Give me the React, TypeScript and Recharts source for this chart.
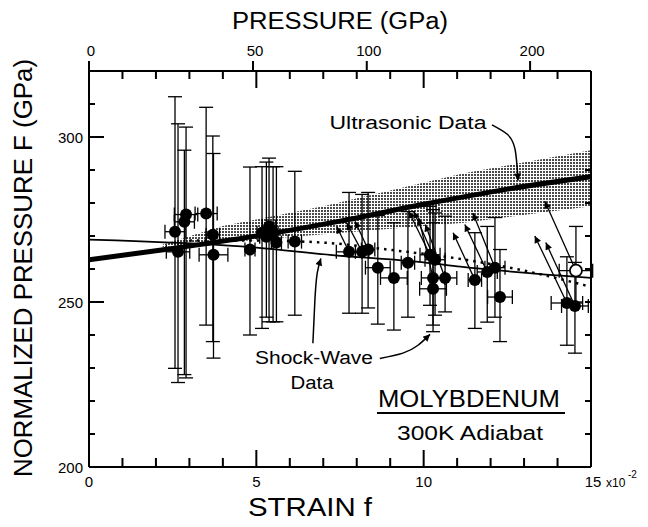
import {
  ComposedChart,
  XAxis,
  YAxis,
  Line,
  Area,
  Scatter,
  ErrorBar,
  ReferenceLine,
} from "recharts";

const FONT = "'Liberation Sans', Arial, sans-serif";

// axes: strain f (x10^-2) at the bottom, pressure (GPa) on top, F (GPa) at the sides
const strainTicks = [0, 1, 2, 3, 4, 5, 6, 7, 8, 9, 10, 11, 12, 13, 14, 15];
const strainLabels = [0, 5, 10, 15];
const pressureLabels = [0, 50, 100, 200];
const pressureAtStrain = [0, 4.9, 8.3, 13.18];
const fTicks = [200, 210, 220, 230, 240, 250, 260, 270, 280, 290, 300, 310, 320];
const fLabels = [200, 250, 300];

// ultrasonic fit and its uncertainty band
const ultraStrain = [0, 2.5, 5, 7.5, 10, 12.5, 15];
const ultraF = [262.8, 266.2, 270, 274.5, 279.6, 284.2, 288];
const bandStrain = [2.2, 4, 7, 11.2, 15];
const bandLow = [266.6, 268, 270.5, 274, 279];
const bandHigh = [267.4, 273, 279, 289, 296];

// shock-wave fits
const shockStrain = [0, 5, 7.2, 10, 11.1, 15];
const shockF = [268.9, 266.5, 264.3, 262, 260.7, 257.3];
const dottedStrain = [3, 5, 7, 9, 11, 13, 15];
const dottedF = [268.6, 268.6, 268, 265.8, 263.2, 259.5, 254.6];

// shock-wave data points
const ptStrain = [
  2.57, 2.66, 2.9, 2.85, 3.5, 3.7, 3.72, 4.81, 5.17, 5.3, 5.38, 5.5, 5.6, 6.15,
  7.77, 8.16, 8.34, 8.63, 9.11, 9.53, 10.19, 10.34, 10.28, 10.28, 10.64, 11.53,
  11.9, 12.13, 12.28, 14.28, 14.52,
];
const ptF = [
  271.3, 265.2, 276.5, 274.3, 276.8, 270.4, 264.3, 265.9, 271, 269.8, 272.9, 271,
  268, 268.3, 265.2, 265.2, 265.9, 260.4, 257.3, 261.9, 264.3, 262.8, 257.3, 254,
  257.3, 256.7, 259.1, 260.4, 251.5, 249.7, 248.8,
];
const ptTop = [
  312.2, 304, 303, 296, 309, 300.3, 295, 290.9, 291, 292.4, 293.6, 291, 291, 289.6,
  283.2, 282.6, 283.2, 276.2, 274, 277.4, 279, 277, 278, 274, 276, 271, 272.9,
  275.6, 265.9, 263.7, 262,
];
const ptBottom = [
  229.9, 225.6, 227, 228, 243, 238, 233, 240, 242, 245.4, 244, 244, 244, 246,
  246.6, 246.6, 248.2, 243.3, 241.5, 245.4, 249, 246, 243, 241, 247, 242, 243.9,
  245.4, 238, 236.9, 234.5,
];
const ptStrainErr = [
  0.3, 0.35, 0.35, 0.3, 0.33, 0.2, 0.43, 0.15, 0.15, 0.2, 0.2, 0.15, 0.15, 0.2,
  0.38, 0.2, 0.2, 0.37, 0.4, 0.2, 0.3, 0.3, 0.35, 0.4, 0.35, 0.2, 0.3, 0.3, 0.37,
  0.47, 0.4,
];

// open-circle point
const openStrain = [14.55];
const openF = [259.5];
const openTop = [272.9];
const openBottom = [250];
const openStrainErr = [0.5];

// arrows from shock-wave points
const arrowFromStrain = [7.77, 8.16, 8.34, 10.19, 10.34, 10.28, 10.64, 11.53, 11.9, 12.13, 14.28, 14.52, 14.55];
const arrowFromF = [265.2, 265.2, 265.9, 264.3, 262.8, 257.3, 257.3, 256.7, 259.1, 260.4, 249.7, 248.8, 259.5];
const arrowToStrain = [7.4, 7.7, 7.95, 9.55, 9.7, 9.85, 10.05, 10.88, 11.23, 11.47, 13.32, 13.65, 13.62];
const arrowToF = [272.9, 274, 274.5, 277.5, 277.5, 275.5, 273.5, 271, 273.5, 277, 270, 268, 280.5];

// annotation arrows
const ultraArrowStrain = [12.04, 12.49, 12.73, 12.82];
const ultraArrowF = [303.7, 300.9, 296.3, 286.8];
const shockArrowAStrain = [6.69, 6.75, 6.82, 6.93];
const shockArrowAF = [237.5, 250.6, 258.8, 263.2];
const shockArrowBStrain = [8.69, 9.38, 9.83, 10.19];
const shockArrowBF = [232.9, 234.5, 236.9, 240.2];

// chart layout
const W = 648;
const H = 527;
const margin = { top: 41, right: 56, bottom: 30, left: 29 };
const Y_AXIS_W = 60;
const X_AXIS_H = 30;
const plotLeft = margin.left + Y_AXIS_W;
const plotTop = margin.top + X_AXIS_H;
const plotW = W - plotLeft - margin.right - 1;
const plotH = H - plotTop - margin.bottom - X_AXIS_H;
const X_MIN = 0;
const X_MAX = 15;
const Y_MIN = 200;
const Y_MAX = 320;
const toPx = (v: number) => plotLeft + ((v - X_MIN) / (X_MAX - X_MIN)) * plotW;
const toPy = (v: number) => plotTop + ((Y_MAX - v) / (Y_MAX - Y_MIN)) * plotH;

const axisStyle = { stroke: "#000", strokeWidth: 2 };

function BottomTick(props: any) {
  const { x, y, payload } = props;
  const v = payload.value;
  if (!strainLabels.includes(v)) return <g />;
  return (
    <g>
      <text x={x + (v === 15 ? 2 : 0)} y={y + 20} textAnchor="middle" fontSize={15} fontFamily={FONT} fill="#000">
        {v}
      </text>
      {v === 15 && (
        <>
          <text x={x + 15} y={y + 20} fontSize={12} fontFamily={FONT} fill="#000">x10</text>
          <text x={x + 37} y={y + 11} fontSize={10} fontFamily={FONT} fill="#000">-2</text>
        </>
      )}
    </g>
  );
}

function TopTick(props: any) {
  const { x, y, payload } = props;
  const pi = pressureAtStrain.findIndex((s) => Math.abs(s - payload.value) < 1e-6);
  return (
    <text x={x + 2} y={y - 15.5} textAnchor="middle" fontSize={15} fontFamily={FONT} fill="#000">
      {pi >= 0 ? pressureLabels[pi] : ""}
    </text>
  );
}

function LeftTick(props: any) {
  const { x, y, payload } = props;
  const v = payload.value;
  if (!fLabels.includes(v)) return <g />;
  return (
    <text x={x - 6} y={y + 5.5} textAnchor="end" fontSize={15} fontFamily={FONT} fill="#000">
      {v}
    </text>
  );
}

// tick marks on the frame: inward strain / F ticks, outward pressure ticks
function FrameTicks() {
  const bottom = plotTop + plotH;
  const right = plotLeft + plotW;
  const lines: { x1: number; y1: number; x2: number; y2: number }[] = [];
  strainTicks
    .filter((v) => v > X_MIN && v < X_MAX)
    .forEach((v) => {
      const x = toPx(v);
      const long = v % 5 === 0;
      lines.push({ x1: x, y1: bottom, x2: x, y2: bottom - (long ? 17 : 9) });
      lines.push({ x1: x, y1: plotTop, x2: x, y2: plotTop + (long ? 17 : 8) });
    });
  pressureAtStrain.forEach((v) => {
    lines.push({ x1: toPx(v), y1: plotTop, x2: toPx(v), y2: plotTop - 10 });
  });
  fTicks
    .filter((v) => v > Y_MIN && v < Y_MAX)
    .forEach((v) => {
      const y = toPy(v);
      const long = v === 250 || v === 300;
      lines.push({ x1: plotLeft, y1: y, x2: plotLeft + (long ? 15 : 6), y2: y });
      lines.push({ x1: right, y1: y, x2: right - 6, y2: y });
    });
  return (
    <>
      {lines.map((l, i) => (
        <line key={i} x1={l.x1} y1={l.y1} x2={l.x2} y2={l.y2} stroke="#000" strokeWidth={2} />
      ))}
    </>
  );
}

export default function App() {
  const ultraData = ultraStrain.map((x, i) => ({ x, y: ultraF[i] }));
  const bandData = bandStrain.map((x, i) => ({ x, band: [bandLow[i], bandHigh[i]] }));
  const shockData = shockStrain.map((x, i) => ({ x, y: shockF[i] }));
  const dottedData = dottedStrain.map((x, i) => ({ x, y: dottedF[i] }));
  const points = ptStrain.map((x, i) => ({
    x,
    y: ptF[i],
    ey: [ptF[i] - ptBottom[i], ptTop[i] - ptF[i]],
    ex: ptStrainErr[i],
  }));
  const openPoints = openStrain.map((x, i) => ({
    x,
    y: openF[i],
    ey: [openF[i] - openBottom[i], openTop[i] - openF[i]],
    ex: openStrainErr[i],
  }));
  const ultraArrow = ultraArrowStrain.map((x, i) => ({ x, y: ultraArrowF[i] }));
  const shockArrowA = shockArrowAStrain.map((x, i) => ({ x, y: shockArrowAF[i] }));
  const shockArrowB = shockArrowBStrain.map((x, i) => ({ x, y: shockArrowBF[i] }));

  return (
    <div style={{ position: "absolute", left: 0, top: 0, width: W, height: H, background: "#fff" }}>
      <ComposedChart width={W} height={H} margin={margin}>
        <defs>
          <pattern id="stipple" width="3" height="3" patternUnits="userSpaceOnUse">
            <rect width="3" height="3" fill="#fff" />
            <rect width="2" height="2" fill="#4a4a4a" />
          </pattern>
          <marker id="arrowHead" viewBox="0 0 10 10" refX="10" refY="5" markerWidth="9" markerHeight="7" markerUnits="userSpaceOnUse" orient="auto">
            <path d="M0,0 L10,5 L0,10 z" fill="#000" />
          </marker>
        </defs>

        <XAxis
          xAxisId="f"
          type="number"
          dataKey="x"
          domain={[X_MIN, X_MAX]}
          ticks={strainTicks}
          interval={0}
          tick={BottomTick}
          tickLine={false}
          tickSize={0}
          tickMargin={0}
          height={X_AXIS_H}
          axisLine={axisStyle}
          allowDataOverflow
        />
        <XAxis
          xAxisId="p"
          orientation="top"
          type="number"
          dataKey="x"
          domain={[X_MIN, X_MAX]}
          ticks={pressureAtStrain}
          interval={0}
          tick={TopTick}
          tickLine={false}
          tickSize={0}
          tickMargin={0}
          height={X_AXIS_H}
          axisLine={axisStyle}
          allowDataOverflow
        />
        <YAxis
          yAxisId="l"
          type="number"
          domain={[Y_MIN, Y_MAX]}
          ticks={fTicks}
          interval={0}
          tick={LeftTick}
          tickLine={false}
          tickSize={0}
          tickMargin={0}
          width={Y_AXIS_W}
          axisLine={axisStyle}
          allowDataOverflow
        />
        <YAxis
          yAxisId="r"
          orientation="right"
          type="number"
          domain={[Y_MIN, Y_MAX]}
          ticks={fTicks}
          interval={0}
          tick={false}
          tickLine={false}
          width={1}
          axisLine={axisStyle}
          allowDataOverflow
        />

        <Area
          xAxisId="f"
          yAxisId="l"
          data={bandData}
          dataKey="band"
          type="linear"
          stroke="none"
          fill="url(#stipple)"
          fillOpacity={1}
          isAnimationActive={false}
        />
        <Line xAxisId="f" yAxisId="l" data={ultraData} dataKey="y" type="monotone" stroke="#000" strokeWidth={5} dot={false} isAnimationActive={false} />
        <Line xAxisId="f" yAxisId="l" data={shockData} dataKey="y" type="monotone" stroke="#000" strokeWidth={1.8} dot={false} isAnimationActive={false} />
        <Line
          xAxisId="f"
          yAxisId="l"
          data={dottedData}
          dataKey="y"
          type="monotone"
          stroke="#000"
          strokeWidth={2.5}
          strokeDasharray="2.5 5"
          dot={false}
          isAnimationActive={false}
        />

        {arrowFromStrain.map((x, i) => (
          <ReferenceLine
            key={"a" + i}
            xAxisId="f"
            yAxisId="l"
            segment={[
              { x, y: arrowFromF[i] },
              { x: arrowToStrain[i], y: arrowToF[i] },
            ]}
            stroke="#000"
            strokeWidth={1.3}
            markerEnd="url(#arrowHead)"
            ifOverflow="visible"
          />
        ))}

        <Scatter
          xAxisId="f"
          yAxisId="l"
          data={points}
          dataKey="y"
          isAnimationActive={false}
          shape={(p: any) => <circle cx={p.cx} cy={p.cy} r={6} fill="#000" />}
        >
          <ErrorBar dataKey="ey" direction="y" width={7} stroke="#000" strokeWidth={1.3} />
          <ErrorBar dataKey="ex" direction="x" width={7} stroke="#000" strokeWidth={1.3} />
        </Scatter>
        <Scatter
          xAxisId="f"
          yAxisId="l"
          data={openPoints}
          dataKey="y"
          isAnimationActive={false}
          shape={(p: any) => <circle cx={p.cx} cy={p.cy} r={6} fill="#fff" stroke="#000" strokeWidth={1.8} />}
        >
          <ErrorBar dataKey="ey" direction="y" width={7} stroke="#000" strokeWidth={1.3} />
          <ErrorBar dataKey="ex" direction="x" width={7} stroke="#000" strokeWidth={1.3} />
        </Scatter>

        <Line xAxisId="f" yAxisId="l" data={ultraArrow} dataKey="y" type="natural" stroke="#000" strokeWidth={1.5} dot={false} markerEnd="url(#arrowHead)" isAnimationActive={false} />
        <Line xAxisId="f" yAxisId="l" data={shockArrowA} dataKey="y" type="natural" stroke="#000" strokeWidth={1.5} dot={false} markerEnd="url(#arrowHead)" isAnimationActive={false} />
        <Line xAxisId="f" yAxisId="l" data={shockArrowB} dataKey="y" type="natural" stroke="#000" strokeWidth={1.5} dot={false} markerEnd="url(#arrowHead)" isAnimationActive={false} />
      </ComposedChart>

      <svg width={W} height={H} style={{ position: "absolute", left: 0, top: 0, pointerEvents: "none" }} fontFamily={FONT}>
        <FrameTicks />
        <text x={340} y={29} textAnchor="middle" fontSize={23} textLength={216} lengthAdjust="spacingAndGlyphs">
          PRESSURE (GPa)
        </text>
        <text x={310} y={516} textAnchor="middle" fontSize={25} textLength={124} lengthAdjust="spacingAndGlyphs">
          STRAIN  f
        </text>
        <text
          transform="translate(32,268) rotate(-90)"
          textAnchor="middle"
          fontSize={25}
          textLength={418}
          lengthAdjust="spacingAndGlyphs"
        >
          NORMALIZED PRESSURE  F (GPa)
        </text>
        <text x={408} y={128.5} textAnchor="middle" fontSize={18} textLength={157} lengthAdjust="spacingAndGlyphs">
          Ultrasonic Data
        </text>
        <text x={314} y={363.5} textAnchor="middle" fontSize={18} textLength={118} lengthAdjust="spacingAndGlyphs">
          Shock-Wave
        </text>
        <text x={312} y={389} textAnchor="middle" fontSize={18} textLength={43} lengthAdjust="spacingAndGlyphs">
          Data
        </text>
        <text x={469} y={407} textAnchor="middle" fontSize={23} textLength={182} lengthAdjust="spacingAndGlyphs">
          MOLYBDENUM
        </text>
        <line x1={377} y1={413} x2={565} y2={413} stroke="#000" strokeWidth={2} />
        <text x={470} y={440} textAnchor="middle" fontSize={20} textLength={146} lengthAdjust="spacingAndGlyphs">
          300K Adiabat
        </text>
      </svg>
    </div>
  );
}
